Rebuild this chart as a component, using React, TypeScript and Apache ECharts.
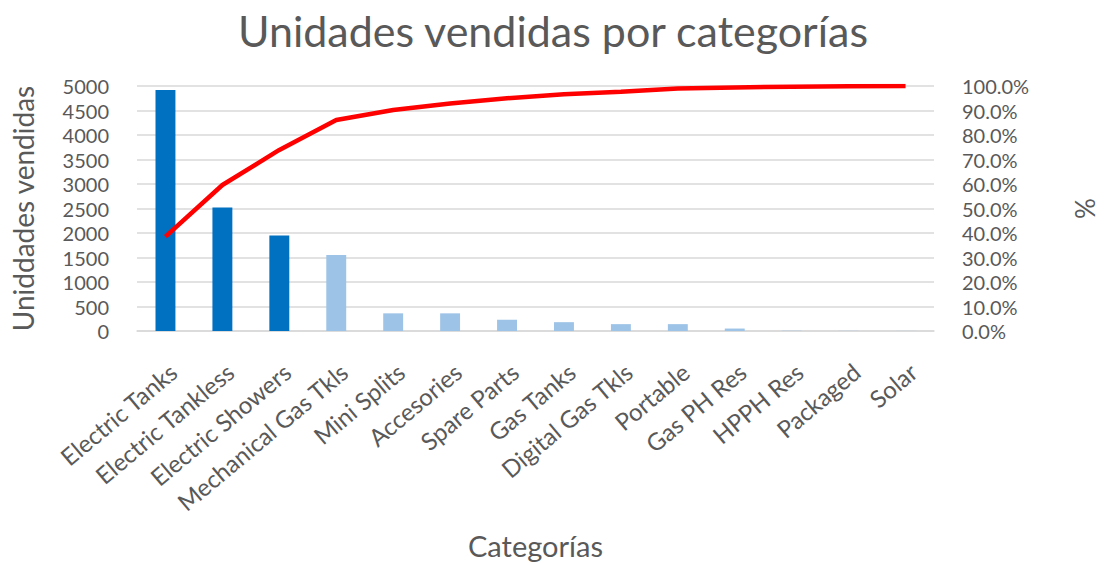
import React, { useEffect, useRef } from "react";
import * as echarts from "echarts";

const categories = [
  "Electric Tanks",
  "Electric Tankless",
  "Electric Showers",
  "Mechanical Gas Tkls",
  "Mini Splits",
  "Accesories",
  "Spare Parts",
  "Gas Tanks",
  "Digital Gas Tkls",
  "Portable",
  "Gas PH Res",
  "HPPH Res",
  "Packaged",
  "Solar",
];
const unidades = [4920, 2520, 1950, 1550, 360, 360, 230, 180, 140, 140, 50, 5, 3, 2];
const acumulado = [38.5, 59.6, 73.9, 86.1, 90.2, 92.9, 95.0, 96.6, 97.7, 99.0, 99.4, 99.7, 99.9, 100.0];
const nDark = 3;

const FONT = "Lato, 'Open Sans', sans-serif";
const TXT = "#595959";

export default function App() {
  const ref = useRef<HTMLDivElement>(null);
  useEffect(() => {
    document.body.style.margin = "0";
    const chart = echarts.init(ref.current!, null, { renderer: "svg" });
    chart.setOption({
      animation: false,
      backgroundColor: "#ffffff",
      textStyle: { fontFamily: FONT },
      title: {
        text: "Unidades vendidas por categorías",
        left: "center",
        top: 4,
        textStyle: { fontFamily: FONT, fontSize: 43, fontWeight: "normal", color: TXT },
      },
      grid: { left: 137, right: 166, top: 86, bottom: 232 },
      xAxis: {
        type: "category",
        data: categories,
        name: "Categorías",
        nameLocation: "middle",
        nameGap: 200,
        nameTextStyle: { fontFamily: FONT, fontSize: 29, color: TXT },
        axisLine: { lineStyle: { color: "#d9d9d9", width: 1.5 } },
        axisTick: { show: false },
        axisLabel: {
          rotate: 40,
          interval: 0,
          fontFamily: FONT,
          fontSize: 24,
          color: TXT,
          margin: 28,
          verticalAlign: "top",
        },
      },
      yAxis: [
        {
          type: "value",
          min: 0,
          max: 5000,
          interval: 500,
          name: "Uniddades vendidas",
          nameLocation: "middle",
          nameGap: 100,
          nameTextStyle: { fontFamily: FONT, fontSize: 28, color: TXT },
          axisLabel: {
            fontFamily: FONT,
            fontSize: 20,
            lineHeight: 20,
            color: TXT,
            margin: 28,
            formatter: (v: number) => String(v),
          },
          splitLine: { lineStyle: { color: "#d9d9d9", width: 1.5 } },
          axisLine: { show: false },
          axisTick: { show: false },
        },
        {
          type: "value",
          min: 0,
          max: 100,
          interval: 10,
          name: "%",
          nameLocation: "middle",
          nameGap: 138,
          nameTextStyle: { fontFamily: FONT, fontSize: 26, color: TXT },
          axisLabel: {
            fontFamily: FONT,
            fontSize: 20,
            lineHeight: 20,
            color: TXT,
            margin: 28,
            formatter: (v: number) => v.toFixed(1) + "%",
          },
          splitLine: { show: false },
          axisLine: { show: false },
          axisTick: { show: false },
        },
      ],
      series: [
        {
          type: "bar",
          yAxisIndex: 0,
          barWidth: "35%",
          data: unidades.map((v, i) => ({
            value: v,
            itemStyle: { color: i < nDark ? "#0070C0" : "#9DC3E6" },
          })),
        },
        {
          type: "line",
          yAxisIndex: 1,
          data: acumulado,
          symbol: "none",
          lineStyle: { color: "#FF0000", width: 4.5 },
        },
      ],
    });
    return () => chart.dispose();
  }, []);
  return <div ref={ref} style={{ width: 1106, height: 563 }} />;
}
